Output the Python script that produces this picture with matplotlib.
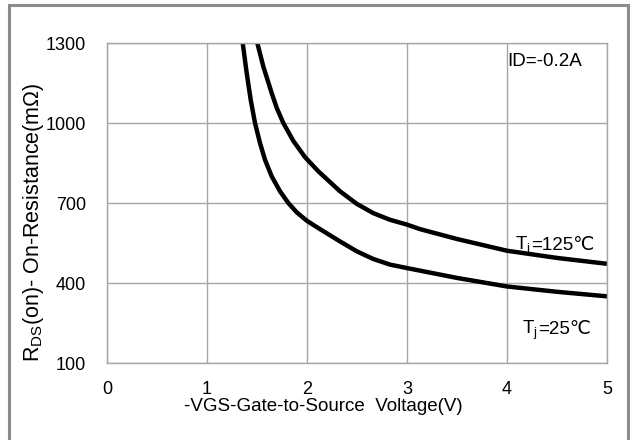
import matplotlib
matplotlib.use("Agg")
import matplotlib.pyplot as plt
from matplotlib.patches import Rectangle

plt.rcParams['font.family'] = ['Liberation Sans', 'DejaVu Sans']
plt.rcParams['mathtext.default'] = 'regular'

# (VGS in V, RDS(on) in mOhm)
vgs_25 = [1.357, 1.397, 1.437, 1.48, 1.53, 1.58, 1.647, 1.73, 1.813, 1.897, 2.0,
          2.113, 2.33, 2.497, 2.663, 2.83, 3.0, 3.5, 4.0, 4.5, 5.0]
rds_25 = [1300, 1187, 1087, 1000, 925, 862, 800, 744, 700, 665, 633,
          606, 556, 519, 490, 469, 456, 419, 387, 367, 350]

vgs_125 = [1.503, 1.563, 1.647, 1.697, 1.763, 1.863, 1.98, 2.113, 2.33, 2.497,
           2.663, 2.83, 3.0, 3.13, 3.5, 4.0, 4.5, 5.0]
rds_125 = [1300, 1212, 1112, 1057, 1000, 933, 872, 819, 744, 697,
           662, 637, 619, 602, 565, 521, 494, 472]

x_ticks = [0, 1, 2, 3, 4, 5]
y_ticks = [100, 400, 700, 1000, 1300]

grey = '#a6a6a6'

fig = plt.figure(figsize=(6.32, 4.4), dpi=100)
ax = fig.add_axes([107 / 632, 77 / 440, 500 / 632, 320 / 440])

ax.plot(vgs_125, rds_125, color='black', lw=3.2, solid_capstyle='butt',
        solid_joinstyle='round')
ax.plot(vgs_25, rds_25, color='black', lw=3.2, solid_capstyle='butt',
        solid_joinstyle='round')

ax.set_xlim(0, 5)
ax.set_ylim(100, 1300)
ax.set_xticks(x_ticks)
ax.set_yticks(y_ticks)
ax.grid(True, color=grey, lw=1.0)
ax.set_axisbelow(True)
for s in ax.spines.values():
    s.set_color(grey)
    s.set_linewidth(1.0)
ax.tick_params(length=0, labelsize=13, colors='black')
ax.tick_params(axis='y', pad=15)
ax.tick_params(axis='x', pad=13)

ax.set_xlabel('-VGS-Gate-to-Source  Voltage(V)', fontsize=13.5)
ax.xaxis.set_label_coords(0.433, -0.11)
ax.set_ylabel(r'R$_{DS}$(on)- On-Resistance(mΩ)', fontsize=15.5)
ax.yaxis.set_label_coords(-0.122, 0.44)

ax.text(4.0, 1230, 'ID=-0.2A', fontsize=13.5, va='center', ha='left')


def tj_label(x, y, rest):
    # "T" with subscript j in mathtext, the rest as plain text so ℃ can fall back
    t = ax.text(x, y, r'T$_{j}$', fontsize=13.5, va='baseline', ha='left')
    fig.canvas.draw()
    bb = t.get_window_extent()
    base = ax.transData.transform((x, y))[1]
    x2, y2 = ax.transData.inverted().transform((bb.x1, base))
    ax.text(x2, y2, rest, fontsize=13.5, va='baseline', ha='left')


tj_label(4.08, 525, '=125℃')
tj_label(4.15, 208, '=25℃')

# grey frame around the picture
fig.add_artist(Rectangle((9 / 632, -0.05), 618.5 / 632, (440 - 5.5) / 440 + 0.05,
                         transform=fig.transFigure, fill=False,
                         edgecolor='#8c8c8c', lw=2.2))

fig.savefig('out.png', dpi=100)
